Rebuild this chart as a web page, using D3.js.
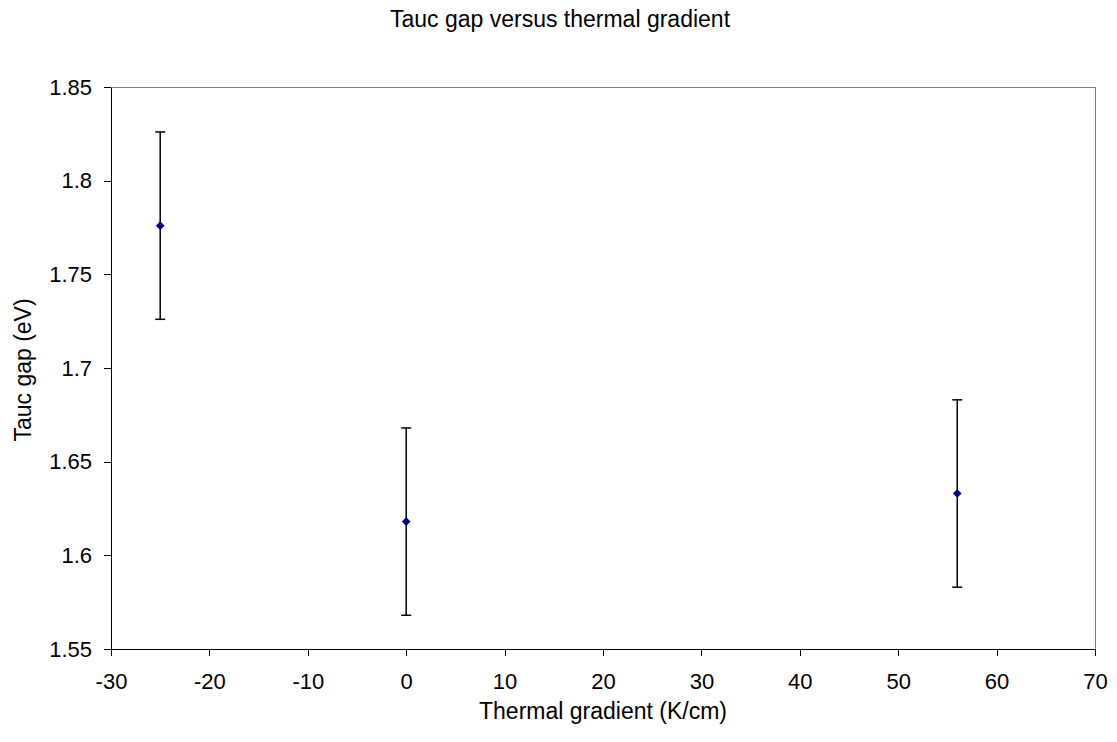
<!DOCTYPE html>
<html><head><meta charset="utf-8">
<script src="https://cdn.jsdelivr.net/npm/d3@7"></script>
<style>body{margin:0;background:#fff;} text{font-family:"Liberation Sans",Arial,sans-serif;fill:#000;}</style>
</head><body>
<svg id="c" width="1117" height="742"></svg>
<script>
const xValues = [-25, 0, 56];
const yValues = [1.776, 1.618, 1.633];
const errValues = [0.05, 0.05, 0.05];
const xTicks = [-30, -20, -10, 0, 10, 20, 30, 40, 50, 60, 70];
const yTicks = [1.55, 1.6, 1.65, 1.7, 1.75, 1.8, 1.85];
const title = "Tauc gap versus thermal gradient";
const xTitle = "Thermal gradient (K/cm)";
const yTitle = "Tauc gap (eV)";

const svg = d3.select("#c");
const L = 111, R = 1095, T = 87, B = 649;
const x = d3.scaleLinear().domain([-30, 70]).range([L, R]);
const y = d3.scaleLinear().domain([1.55, 1.85]).range([B, T]);

// plot border (gray)
svg.append("rect").attr("x", L).attr("y", T).attr("width", R - L).attr("height", B - T)
  .attr("fill", "none").attr("stroke", "#808080").attr("stroke-width", 1).attr("shape-rendering", "crispEdges");

const xa = svg.append("g").attr("transform", `translate(0,${B})`)
  .call(d3.axisBottom(x).tickValues(xTicks).tickSize(7).tickSizeOuter(0).tickPadding(17).tickFormat(d => String(d)));
const ya = svg.append("g").attr("transform", `translate(${L},0)`)
  .call(d3.axisLeft(y).tickValues(yTicks).tickSize(7).tickSizeOuter(0).tickPadding(12).tickFormat(d => String(+d.toFixed(2))));
[xa, ya].forEach(a => {
  a.attr("font-size", 22).attr("font-family", "Liberation Sans, Arial, sans-serif");
  a.select(".domain").attr("stroke", "#000").attr("shape-rendering", "crispEdges");
  a.selectAll(".tick line").attr("stroke", "#000").attr("shape-rendering", "crispEdges");
  a.selectAll("text").attr("font-size", 22).attr("fill", "#000");
});

const data = xValues.map((v, i) => ({x: v, y: yValues[i], e: errValues[i]}));
const g = svg.append("g");
data.forEach(d => {
  const cx = x(d.x);
  g.append("line").attr("x1", cx).attr("x2", cx).attr("y1", y(d.y + d.e)).attr("y2", y(d.y - d.e))
    .attr("stroke", "#000").attr("stroke-width", 1.5);
  [d.y + d.e, d.y - d.e].forEach(v => {
    g.append("line").attr("x1", cx - 5).attr("x2", cx + 5).attr("y1", y(v)).attr("y2", y(v))
      .attr("stroke", "#000").attr("stroke-width", 1.5);
  });
  g.append("path").attr("d", d3.symbol(d3.symbolDiamond2, 48)())
    .attr("transform", `translate(${cx},${y(d.y)})`).attr("fill", "#000080");
});

svg.append("text").attr("x", 560).attr("y", 27).attr("text-anchor", "middle").attr("font-size", 23).text(title);
svg.append("text").attr("x", (L + R) / 2).attr("y", 719).attr("text-anchor", "middle").attr("font-size", 23).text(xTitle);
svg.append("text").attr("transform", `translate(31,370) rotate(-90)`).attr("text-anchor", "middle").attr("font-size", 23).text(yTitle);
</script>
</body></html>
